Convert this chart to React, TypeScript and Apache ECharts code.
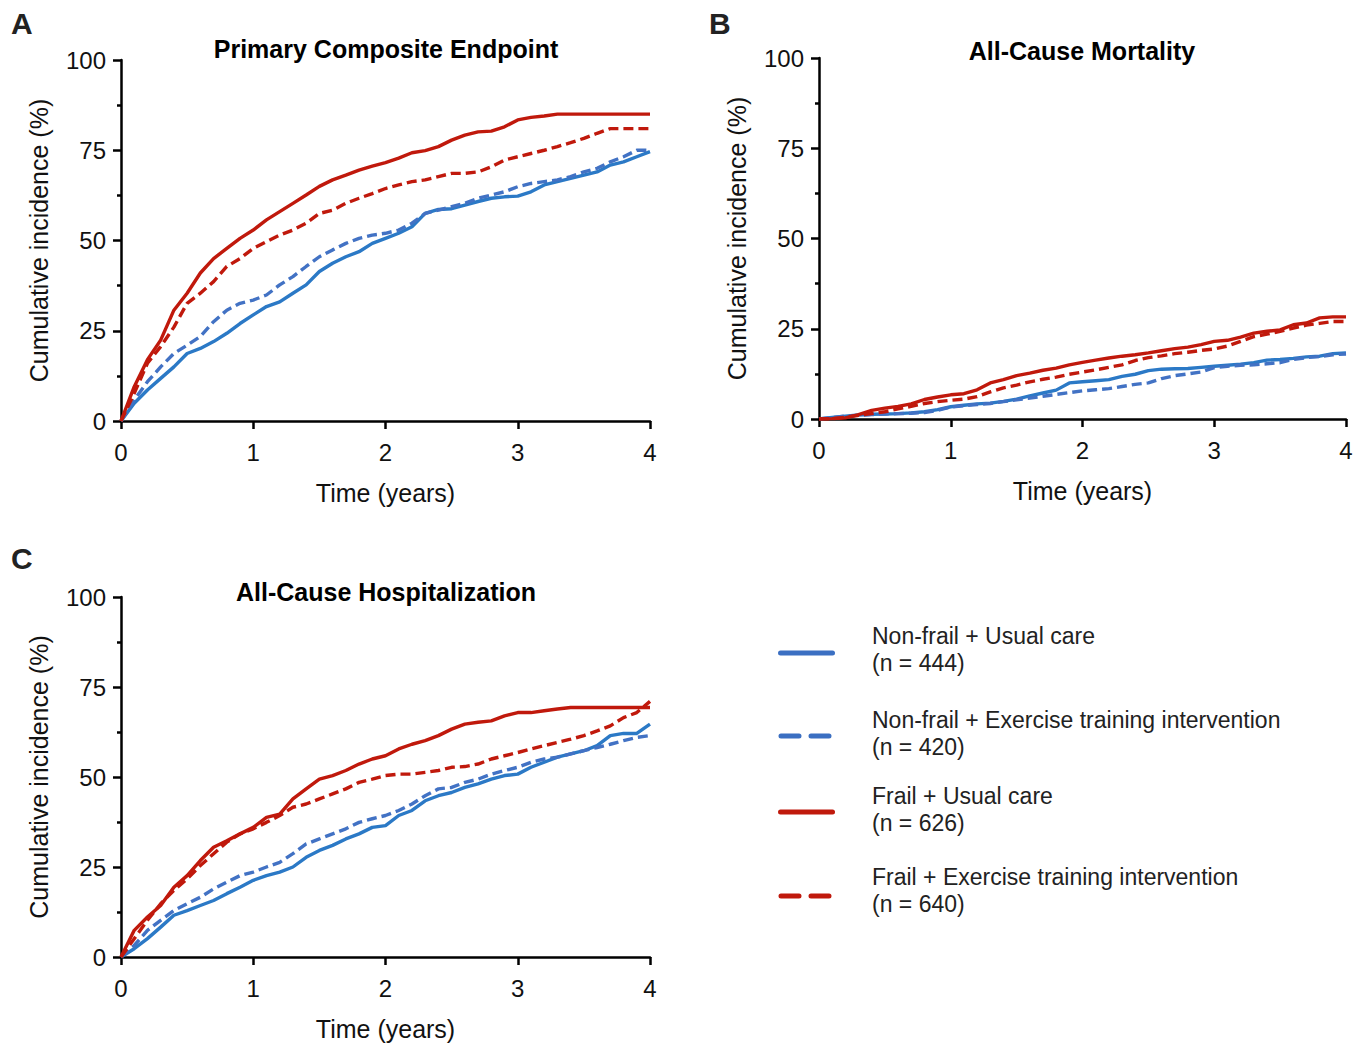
import React, { useEffect, useRef } from "react";
import * as echarts from "echarts";

const T = [0, 0.1, 0.2, 0.3, 0.4, 0.5, 0.6, 0.7, 0.8, 0.9, 1.0, 1.1, 1.2, 1.3, 1.4, 1.5, 1.6, 1.7, 1.8, 1.9, 2.0, 2.1, 2.2, 2.3, 2.4, 2.5, 2.6, 2.7, 2.8, 2.9, 3.0, 3.1, 3.2, 3.3, 3.4, 3.5, 3.6, 3.7, 3.8, 3.9, 4.0];

const groupNames = [
  "Non-frail + Usual care",
  "Non-frail + Exercise training intervention",
  "Frail + Usual care",
  "Frail + Exercise training intervention",
];
const groupN = [444, 420, 626, 640];

const panelTitles = ["Primary Composite Endpoint", "All-Cause Mortality", "All-Cause Hospitalization"];
const panelLetters = ["A", "B", "C"];
const xTicks = [0, 1, 2, 3, 4];
const yTicks = [0, 25, 50, 75, 100];

// Panel A: Primary composite endpoint
const A_nonfrailUsual = [0, 4.9, 8.6, 11.8, 15, 18.7, 20.1, 22, 24.3, 27, 29.4, 31.7, 33, 35.4, 37.7, 41.4, 43.7, 45.5, 46.9, 49.2, 50.6, 52, 53.8, 57.5, 58.6, 58.8, 59.8, 60.8, 61.7, 62.1, 62.3, 63.5, 65.4, 66.3, 67.2, 68.1, 69, 70.9, 71.8, 73.2, 74.6];
const A_nonfrailEx = [0, 5.8, 10.9, 15, 18.7, 21, 23.4, 27.5, 30.7, 32.6, 33.5, 34.9, 37.7, 40, 42.8, 45.5, 47.4, 49.2, 50.6, 51.5, 52, 52.9, 54.8, 57.5, 58.4, 59.4, 60.3, 61.7, 62.6, 63.5, 64.9, 65.8, 66.3, 66.8, 67.7, 69, 70, 71.8, 73.2, 75, 75];
const A_frailUsual = [0, 9.5, 17, 22.4, 30.7, 35.4, 41, 45, 47.8, 50.6, 52.9, 55.7, 58, 60.3, 62.6, 65, 66.8, 68.1, 69.5, 70.6, 71.6, 72.8, 74.3, 74.9, 76, 77.8, 79.2, 80.1, 80.3, 81.5, 83.4, 84.1, 84.5, 85, 85, 85, 85, 85, 85, 85, 85];
const A_frailEx = [0, 7.7, 16, 20.6, 26, 32.6, 35.4, 38.6, 42.8, 45, 47.8, 49.7, 51.5, 52.9, 54.8, 57.5, 58.4, 60.3, 61.7, 63, 64.4, 65.4, 66.3, 66.8, 67.7, 68.6, 68.6, 69, 70.4, 72.3, 73.2, 74.1, 75, 76, 77.1, 78.3, 79.7, 81, 81, 81, 81];

// Panel B: All-cause mortality
const B_nonfrailUsual = [0, 0.4, 0.8, 1.1, 1.3, 1.4, 1.5, 1.7, 2.0, 2.6, 3.4, 3.8, 4.2, 4.4, 4.9, 5.5, 6.4, 7.2, 8.0, 10.0, 10.3, 10.6, 10.9, 11.8, 12.4, 13.4, 13.8, 13.9, 14.0, 14.3, 14.6, 14.9, 15.2, 15.6, 16.3, 16.5, 16.8, 17.2, 17.4, 18.1, 18.3];
const B_nonfrailEx = [0, 0.4, 0.8, 1.0, 1.2, 1.4, 1.5, 1.6, 1.8, 2.4, 3.3, 3.7, 4.0, 4.3, 4.8, 5.3, 5.8, 6.3, 6.8, 7.3, 7.8, 8.1, 8.4, 9.0, 9.6, 10.0, 11.2, 12.0, 12.5, 13.0, 14.2, 14.6, 14.9, 15.0, 15.3, 15.6, 16.5, 17.0, 17.3, 17.8, 18.0];
const B_frailUsual = [0, 0.1, 0.3, 1.2, 2.4, 3.0, 3.5, 4.2, 5.4, 6.1, 6.7, 7.0, 8.1, 10.0, 10.9, 12.0, 12.7, 13.5, 14.1, 15.0, 15.7, 16.3, 16.9, 17.4, 17.8, 18.3, 18.9, 19.5, 19.9, 20.6, 21.5, 21.8, 22.7, 23.8, 24.3, 24.7, 26.1, 26.6, 28.0, 28.3, 28.3];
const B_frailEx = [0, 0.1, 0.5, 1.0, 1.5, 2.0, 2.8, 3.5, 4.3, 4.8, 5.2, 5.5, 6.2, 7.5, 8.6, 9.4, 10.3, 11.0, 11.6, 12.4, 13.0, 13.6, 14.3, 15.0, 16.2, 17.0, 17.5, 18.1, 18.5, 19.0, 19.4, 20.2, 21.5, 22.8, 23.5, 24.3, 25.2, 26.0, 26.5, 27.0, 27.0];

// Panel C: All-cause hospitalization
const C_nonfrailUsual = [0, 2.3, 5.1, 8.3, 11.6, 12.9, 14.3, 15.7, 17.6, 19.4, 21.3, 22.6, 23.6, 25, 27.7, 29.6, 31, 32.8, 34.2, 36, 36.5, 39.3, 40.7, 43.4, 44.8, 45.7, 47.1, 48.1, 49.4, 50.4, 50.8, 52.7, 54.1, 55.5, 56.4, 57.3, 58.7, 61.5, 62.1, 62.1, 64.7];
const C_nonfrailEx = [0, 3.2, 7.4, 10.2, 12.9, 14.8, 16.6, 18.9, 20.8, 22.6, 23.6, 25, 26.3, 28.7, 31.4, 32.8, 34.2, 35.6, 37.4, 38.4, 39.3, 40.7, 42.5, 44.8, 46.7, 47.1, 48.5, 49.4, 50.8, 51.8, 52.7, 54.1, 55, 55.5, 56.4, 57.3, 58.2, 59.1, 60.1, 61, 61.5];
const C_frailUsual = [0, 7.4, 11.1, 14.3, 19.4, 22.6, 26.8, 30.5, 32.3, 34.2, 36, 38.8, 39.7, 43.9, 46.7, 49.4, 50.4, 51.8, 53.6, 55, 55.9, 57.8, 59.1, 60.1, 61.5, 63.3, 64.7, 65.2, 65.6, 67, 67.9, 67.9, 68.4, 68.9, 69.3, 69.3, 69.3, 69.3, 69.3, 69.3, 69.3];
const C_frailEx = [0, 5.1, 10.2, 14.8, 18.5, 21.7, 25.4, 28.7, 31.9, 34.2, 35.6, 37.4, 39.3, 41.6, 42.5, 43.9, 45.3, 46.7, 48.5, 49.4, 50.4, 50.8, 50.8, 51.3, 51.8, 52.7, 52.9, 53.6, 55, 55.9, 56.8, 57.8, 58.7, 59.6, 60.5, 61.5, 62.8, 64.2, 66.5, 67.9, 71];

const panels = [
  [A_nonfrailUsual, A_nonfrailEx, A_frailUsual, A_frailEx],
  [B_nonfrailUsual, B_nonfrailEx, B_frailUsual, B_frailEx],
  [C_nonfrailUsual, C_nonfrailEx, C_frailUsual, C_frailEx],
];

const COLORS = ["#2b79c6", "#4272c4", "#c0190c", "#c0190c"];
const LEGEND_COLORS = ["#3b6fc2", "#3b6fc2", "#c0190c", "#c0190c"];
const DASHED = [false, true, false, true];
const FONT = '"Liberation Sans", Arial, Helvetica, sans-serif';

const GRIDS = [
  { left: 121, top: 60, width: 529, height: 361 },
  { left: 819, top: 58, width: 527, height: 361 },
  { left: 121, top: 597, width: 529, height: 360 },
];

export default function App() {
  const ref = useRef<HTMLDivElement>(null);

  useEffect(() => {
    document.body.style.margin = "0";
    if (!ref.current) return;
    const chart = echarts.init(ref.current, null, { renderer: "svg" });

    const axisLine = { show: true, onZero: false, lineStyle: { color: "#000", width: 2.5 } };

    const xAxis = GRIDS.map((_, i) => ({
      type: "value",
      gridIndex: i,
      min: 0,
      max: 4,
      interval: 1,
      axisLine,
      axisTick: { show: true, length: 8, lineStyle: { color: "#000", width: 2.5 } },
      splitLine: { show: false },
      axisLabel: {
        color: "#111",
        fontSize: 24,
        fontFamily: FONT,
        margin: 19,
        formatter: (v: number) => (xTicks.includes(v) ? String(v) : ""),
      },
      name: "Time (years)",
      nameLocation: "middle",
      nameGap: 59,
      nameTextStyle: { color: "#111", fontSize: 25, fontFamily: FONT },
    }));

    const yAxis = GRIDS.map((_, i) => ({
      type: "value",
      gridIndex: i,
      min: 0,
      max: 100,
      interval: 25,
      axisLine,
      axisTick: { show: true, length: 8, lineStyle: { color: "#000", width: 2.5 } },
      minorTick: { show: true, splitNumber: 2, length: 4, lineStyle: { color: "#000", width: 2.5 } },
      splitLine: { show: false },
      minorSplitLine: { show: false },
      axisLabel: {
        color: "#111",
        fontSize: 24,
        fontFamily: FONT,
        margin: 15,
        formatter: (v: number) => (yTicks.includes(v) ? String(v) : ""),
      },
      name: "Cumulative incidence (%)",
      nameLocation: "middle",
      nameGap: 70,
      nameTextStyle: { color: "#111", fontSize: 25, fontFamily: FONT },
    }));

    const series: any[] = [];
    panels.forEach((curves, p) => {
      curves.forEach((vals, g) => {
        series.push({
          type: "line",
          name: groupNames[g],
          xAxisIndex: p,
          yAxisIndex: p,
          data: T.map((t, k) => [t, vals[k]]),
          showSymbol: false,
          symbol: "none",
          smooth: false,
          lineStyle: {
            color: COLORS[g],
            width: 3.4,
            type: DASHED[g] ? [10, 5] : "solid",
          },
          itemStyle: { color: COLORS[g] },
          z: 2 + g,
        });
      });
    });

    const graphic: any[] = [];
    const titleCenters = [
      { x: 386, y: 49 },
      { x: 1082, y: 51 },
      { x: 386, y: 592 },
    ];
    const letterPos = [
      { x: 11, y: 23 },
      { x: 709, y: 23 },
      { x: 11, y: 558 },
    ];
    panelTitles.forEach((t, i) => {
      graphic.push({
        type: "text",
        x: titleCenters[i].x,
        y: titleCenters[i].y,
        style: {
          text: t,
          fill: "#000",
          font: `bold 25px ${FONT}`,
          align: "center",
          verticalAlign: "middle",
          textAlign: "center",
          textVerticalAlign: "middle",
        },
      });
      graphic.push({
        type: "text",
        x: letterPos[i].x,
        y: letterPos[i].y,
        style: {
          text: panelLetters[i],
          fill: "#222",
          font: `bold 30px ${FONT}`,
          align: "left",
          verticalAlign: "middle",
          textAlign: "left",
          textVerticalAlign: "middle",
        },
      });
    });

    const legendLineY = [653, 736, 812, 896];
    const legendTextY = [636, 720, 796, 877];
    groupNames.forEach((name, g) => {
      graphic.push({
        type: "line",
        shape: DASHED[g]
          ? { x1: 781, y1: legendLineY[g], x2: 830, y2: legendLineY[g] }
          : { x1: 780.5, y1: legendLineY[g], x2: 832.5, y2: legendLineY[g] },
        style: {
          stroke: LEGEND_COLORS[g],
          lineWidth: 5,
          lineCap: "round",
          lineDash: DASHED[g] ? [18, 12] : null,
        },
      });
      graphic.push({
        type: "text",
        x: 872,
        y: legendTextY[g],
        style: {
          text: name,
          fill: "#222",
          font: `23px ${FONT}`,
          align: "left",
          verticalAlign: "middle",
          textAlign: "left",
          textVerticalAlign: "middle",
        },
      });
      graphic.push({
        type: "text",
        x: 872,
        y: legendTextY[g] + 27,
        style: {
          text: `(n = ${groupN[g]})`,
          fill: "#222",
          font: `23px ${FONT}`,
          align: "left",
          verticalAlign: "middle",
          textAlign: "left",
          textVerticalAlign: "middle",
        },
      });
    });

    chart.setOption({
      animation: false,
      backgroundColor: "#fff",
      grid: GRIDS.map((g) => ({ ...g, containLabel: false })),
      xAxis,
      yAxis,
      series,
      graphic,
    });

    return () => chart.dispose();
  }, []);

  return <div ref={ref} style={{ width: 1368, height: 1046 }} />;
}
